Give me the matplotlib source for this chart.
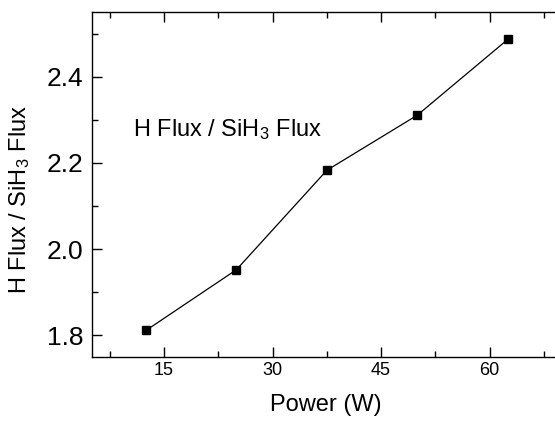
import matplotlib
matplotlib.use('Agg')
import matplotlib.pyplot as plt
from matplotlib.ticker import MultipleLocator, FormatStrFormatter

# data
power = [12.5, 25, 37.5, 50, 62.5]
flux_ratio = [1.811, 1.952, 2.183, 2.311, 2.487]

plt.rcParams['font.family'] = ['Liberation Sans', 'DejaVu Sans']
plt.rcParams['mathtext.fontset'] = 'custom'
plt.rcParams['mathtext.rm'] = 'Liberation Sans'
plt.rcParams['mathtext.it'] = 'Liberation Sans:italic'

fig = plt.figure(figsize=(5.55, 4.23), dpi=100)
# right spine falls outside the picture, as in the original
ax = fig.add_axes([91.7 / 555, 1 - 356.7 / 423, (562 - 91.7) / 555, (356.7 - 12.3) / 423])

ax.plot(power, flux_ratio, color='black', lw=0.9, marker='s', ms=6,
        mfc='black', mec='black')

ax.set_xlim(5, 70)
ax.set_ylim(1.75, 2.55)
ax.xaxis.set_major_locator(MultipleLocator(15))
ax.xaxis.set_minor_locator(MultipleLocator(7.5))
ax.yaxis.set_major_locator(MultipleLocator(0.2))
ax.yaxis.set_minor_locator(MultipleLocator(0.1))
ax.yaxis.set_major_formatter(FormatStrFormatter('%.1f'))

ax.tick_params(which='both', direction='in', top=True, right=False, width=1)
ax.tick_params(which='major', length=7)
ax.tick_params(which='minor', length=4)
ax.tick_params(axis='x', labelsize=13, pad=4)
ax.tick_params(axis='y', labelsize=19, pad=6)
for s in ax.spines.values():
    s.set_linewidth(1)

fig.text(326 / 555, 1 - 410.7 / 423, 'Power (W)', fontsize=17,
         ha='center', va='baseline')
fig.text(20 / 555, 1 - 199 / 423, 'H Flux / SiH$_3$ Flux', fontsize=17,
         rotation=90, ha='center', va='center')
ax.text(10.7, 2.263, 'H Flux / SiH$_3$ Flux', fontsize=17, va='baseline')

fig.savefig('out.png', dpi=100)
